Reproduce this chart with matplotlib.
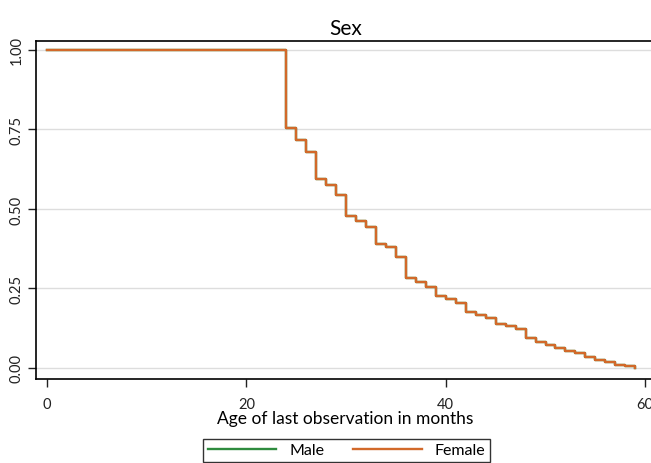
import matplotlib
matplotlib.use("Agg")
import matplotlib.pyplot as plt

# survival estimates (month, S(t))
months = [0, 24, 25, 26, 27, 28, 29, 30, 31, 32, 33, 34, 35, 36, 37, 38, 39,
          40, 41, 42, 43, 44, 45, 46, 47, 48, 49, 50, 51, 52, 53, 54, 55, 56,
          57, 58, 59]
female = [1.0, 0.755, 0.718, 0.678, 0.594, 0.576, 0.544, 0.479, 0.463, 0.442,
          0.390, 0.381, 0.349, 0.282, 0.269, 0.254, 0.227, 0.217, 0.204, 0.175,
          0.167, 0.157, 0.138, 0.131, 0.123, 0.093, 0.083, 0.073, 0.062, 0.054,
          0.046, 0.034, 0.026, 0.018, 0.009, 0.006, 0.0]
# male curve sits underneath the female one
male = list(female)

x_ticks = [0, 20, 40, 60]
y_ticks = [0.0, 0.25, 0.5, 0.75, 1.0]
y_labels = ["0.00", "0.25", "0.50", "0.75", "1.00"]

plt.rcParams['font.family'] = ['Lato', 'DejaVu Sans']

fig = plt.figure(figsize=(6.51, 4.64), dpi=100)
ax = fig.add_axes([36 / 651, 84 / 464, 619 / 651, 338 / 464])

green = '#2e8b3e'
orange = '#d2692a'
ax.plot(months, male, drawstyle='steps-post', color=green, lw=1.7, label='Male', zorder=2)
ax.plot(months, female, drawstyle='steps-post', color=orange, lw=1.7, label='Female', zorder=3)

ax.set_xlim(-1.1, 60.98)
ax.set_ylim(-0.0346, 1.028)
ax.set_xticks(x_ticks)
ax.set_yticks(y_ticks)
ax.set_yticklabels(y_labels, rotation=90, va='center')
ax.tick_params(axis='both', direction='out', length=6, width=1, labelsize=10.5, colors='#222222')
ax.tick_params(axis='x', pad=7)
ax.tick_params(axis='y', pad=3)
ax.grid(axis='y', color='#dddddd', lw=1)
ax.set_axisbelow(True)

for s in ['left', 'bottom', 'top']:
    ax.spines[s].set_color('black')
    ax.spines[s].set_linewidth(1.2)
ax.spines['right'].set_visible(False)

ax.set_title("Sex", fontsize=15, pad=5)
ax.set_xlabel("Age of last observation in months", fontsize=12.5, labelpad=-1)

fig.legend(loc='upper center', bbox_to_anchor=(0.532, 0.07), ncol=2,
           frameon=True, fancybox=False, edgecolor='black', fontsize=11.5,
           handlelength=4.3, handletextpad=0.8, columnspacing=1.8, borderpad=0.3)

plt.savefig("out.png", dpi=100)
